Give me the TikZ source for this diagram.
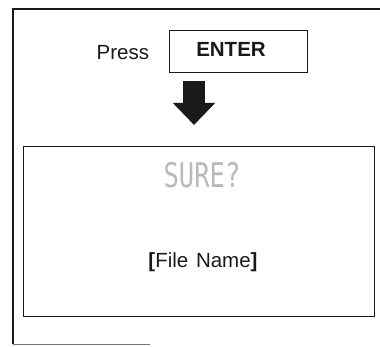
\documentclass[tikz,border=0pt]{standalone}
\usepackage{fontspec}
\setmainfont{Liberation Sans}
\newfontfamily\dotfont{DejaVu Sans Mono}
\usetikzlibrary{arrows.meta,positioning}
\definecolor{ink}{HTML}{1A1A1A}

\begin{document}
\begin{tikzpicture}[x=1pt, y=-1pt, font=\fontsize{20.5}{24}\selectfont, ink]
  \useasboundingbox (0,0) rectangle (380,347);
  % outer frame, cut off on the right
  \draw[line width=1.1pt] (380,9) -- (13,9) -- (13,344);
  \draw[line width=0.8pt, ink!60] (13,344) -- (150,344);

  \node[draw, line width=0.9pt, minimum width=138pt, minimum height=42pt] (K) at (238,51) {};
  \node at (231,49) (Key) {\bfseries ENTER};
  \node[left=16pt of K, yshift=-2pt] (P) {Press};

  \node[draw, line width=0.9pt, minimum width=351pt, minimum height=170pt] (S) at (198.5,231) {};
  \node[text=gray!55, font=\dotfont\fontsize{34}{34}\selectfont, xscale=0.75] at (202,175) (Q) {SURE?};
  \node at (203,262) (F) {\textbf{[}File\hspace{2pt} Name\textbf{]}};

  \coordinate (a) at (194,81);
  \coordinate (b) at (194,125);
  \draw[line width=22pt, -{Triangle[width=41pt, length=22pt]}] (a) -- (b);
\end{tikzpicture}
\end{document}
